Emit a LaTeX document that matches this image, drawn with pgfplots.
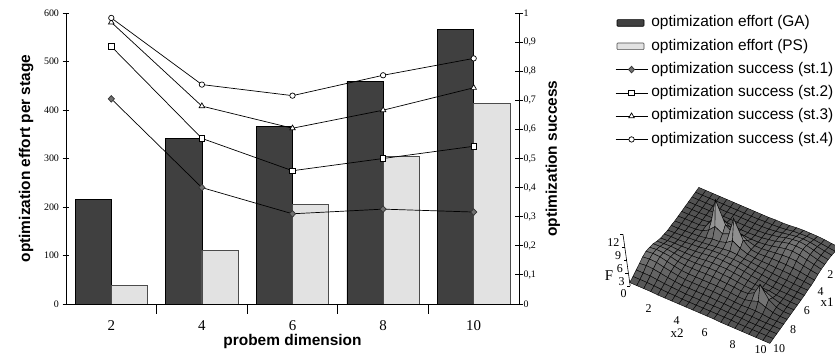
\documentclass[border=0pt]{standalone}
\usepackage{pgfplots}
\pgfplotsset{compat=1.18}
\usepackage{fontspec}
\setmainfont{Liberation Serif}
\newfontfamily\arial{Liberation Sans}
\definecolor{ga}{HTML}{404040}
\definecolor{ps}{HTML}{E2E2E2}
\definecolor{dia}{HTML}{707070}
\pgfplotsset{/pgf/number format/assume math mode=true}
\begin{document}
\begin{tikzpicture}
\useasboundingbox (0,0) rectangle (835bp,356bp);
% ---------- bars (left axis) ----------
\begin{axis}[
  at={(66bp,52bp)}, anchor=south west,
  scale only axis, width=453bp, height=291bp,
  xmin=0.5, xmax=5.5, ymin=0, ymax=600,
  axis x line*=bottom, axis y line*=left,
  axis line style={line width=0.8bp, -},
  xtick={1,2,3,4,5}, xticklabels={2,4,6,8,10},
  minor xtick={1.5,2.5,3.5,4.5},
  ytick={0,100,200,300,400,500,600},
  tick align=center,
  major tick length=7bp, minor tick length=10bp,
  tick style={black, line width=0.8bp},
  major x tick style={draw=none},
  yticklabel style={font=\fontsize{10}{12}\selectfont},
  xticklabel style={font=\fontsize{15}{17}\selectfont, yshift=-6bp},
  ylabel={optimization effort per stage},
  xlabel={probem dimension},
  label style={font=\arial\bfseries\fontsize{15.5}{18}\selectfont},
  ylabel style={at={(axis description cs:-0.088,0.5)}, anchor=center},
  xlabel style={at={(axis description cs:0.5,-0.13)}, anchor=center},
  ybar, bar width=0.4,
]
\addplot[fill=ga, draw=black, line width=0.6bp, bar shift=-0.2] coordinates {(1,216) (2,342) (3,367) (4,459) (5,566)};
\addplot[fill=ps, draw=black!70, line width=0.6bp, bar shift=0.2] coordinates {(1,39) (2,110) (3,205) (4,305) (5,414)};
\end{axis}
% ---------- success lines (right axis) ----------
\begin{axis}[
  at={(66bp,52bp)}, anchor=south west,
  scale only axis, width=453bp, height=291bp,
  xmin=0.5, xmax=5.5, ymin=0, ymax=1,
  axis x line=none, axis y line*=right,
  axis line style={line width=0.8bp, -},
  ytick={0,0.1,0.2,0.3,0.4,0.5,0.6,0.7,0.8,0.9,1},
  tick align=center, major tick length=8bp,
  tick style={black, line width=0.8bp},
  yticklabel style={font=\fontsize{10}{12}\selectfont, xshift=-3bp, /pgf/number format/.cd, fixed, precision=1, use comma},
  ylabel={optimization success},
  ylabel style={font=\arial\bfseries\fontsize{15.5}{18}\selectfont, at={(axis description cs:1.075,0.5)}, anchor=center},
  clip=false,
  legend style={at={(axis description cs:1.2119,0.9914)}, anchor=north west, draw=none, fill=none,
    font=\arial\fontsize{15.5}{18}\selectfont, inner sep=0pt, row sep=8.8bp, column sep=2bp,
    nodes={inner xsep=1.5bp, inner ysep=0bp, text height=11bp, text depth=3.5bp}},
  legend cell align=left,
  legend image code/.code={\draw[mark repeat=2,mark phase=2,#1] plot coordinates {(0bp,0bp) (16bp,0bp) (32bp,0bp)};},
]
\addlegendimage{legend image code/.code={\draw[fill=ga,draw=black,line width=0.6bp,rounded corners=0.8bp] (1.5bp,-3.3bp) rectangle (28.5bp,3.3bp); \path (0bp,0bp) (32bp,0bp);}}
\addlegendentry{optimization effort (GA)}
\addlegendimage{legend image code/.code={\draw[fill=ps,draw=black!70,line width=0.6bp,rounded corners=0.8bp] (1.5bp,-3.3bp) rectangle (28.5bp,3.3bp); \path (0bp,0bp) (32bp,0bp);}}
\addlegendentry{optimization effort (PS)}
\addplot[black, line width=0.7bp, mark=diamond*, mark size=3.3bp, mark options={fill=dia, draw=black!80, xscale=1.25}] coordinates {(1,0.705) (2,0.400) (3,0.310) (4,0.326) (5,0.316)};
\addlegendentry{optimization success (st.1)}
\addplot[black, line width=0.7bp, mark=square*, mark size=2.7bp, mark options={fill=white, draw=black}] coordinates {(1,0.885) (2,0.569) (3,0.458) (4,0.500) (5,0.542)};
\addlegendentry{optimization success (st.2)}
\addplot[black, line width=0.7bp, mark=triangle*, mark size=3.2bp, mark options={fill=white, draw=black}] coordinates {(1,0.968) (2,0.680) (3,0.604) (4,0.666) (5,0.743)};
\addlegendentry{optimization success (st.3)}
\addplot[black, line width=0.7bp, mark=*, mark size=2.7bp, mark options={fill=white, draw=black}] coordinates {(1,0.983) (2,0.754) (3,0.716) (4,0.786) (5,0.844)};
\addlegendentry{optimization success (st.4)}
\end{axis}
% ---------- 3D surface inset ----------
\begin{axis}[
  at={(623bp,10bp)}, anchor=south west,
  x={(14bp,-6bp)}, y={(-6.9bp,-9.6bp)}, z={(-0.6bp,4.3bp)},
  xmin=0, xmax=10, ymin=0, ymax=10, zmin=0, zmax=12,
  hide axis, clip=false,
  colormap={grr}{gray(0cm)=(0.32); gray(1cm)=(0.9)},
  point meta min=0.6, point meta max=9,
  z buffer=none,
]
\addplot3[surf, shader=faceted, faceted color=black, line width=0.4bp, mesh/rows=21, mesh/cols=21] coordinates {
(0,0,0.6)(0.5,0,0.6)(1,0,0.6)(1.5,0,0.6)(2,0,0.6)(2.5,0,0.6)(3,0,0.6)(3.5,0,0.6)(4,0,0.6)(4.5,0,0.6)(5,0,0.6)(5.5,0,0.7)(6,0,0.7)(6.5,0,0.8)(7,0,1.0)(7.5,0,1.1)(8,0,1.1)(8.5,0,1.1)(9,0,1.0)(9.5,0,0.8)(10,0,0.7)
(0,0.5,0.6)(0.5,0.5,0.6)(1,0.5,0.6)(1.5,0.5,0.6)(2,0.5,0.6)(2.5,0.5,0.6)(3,0.5,0.6)(3.5,0.5,0.6)(4,0.5,0.6)(4.5,0.5,0.6)(5,0.5,0.7)(5.5,0.5,0.7)(6,0.5,0.8)(6.5,0.5,1.0)(7,0.5,1.3)(7.5,0.5,1.4)(8,0.5,1.5)(8.5,0.5,1.4)(9,0.5,1.2)(9.5,0.5,1.0)(10,0.5,0.8)
(0,1,0.6)(0.5,1,0.6)(1,1,0.6)(1.5,1,0.6)(2,1,0.6)(2.5,1,0.6)(3,1,0.7)(3.5,1,0.7)(4,1,0.7)(4.5,1,0.7)(5,1,0.7)(5.5,1,0.8)(6,1,1.0)(6.5,1,1.3)(7,1,1.6)(7.5,1,1.9)(8,1,2.0)(8.5,1,1.9)(9,1,1.6)(9.5,1,1.3)(10,1,1.0)
(0,1.5,0.6)(0.5,1.5,0.6)(1,1.5,0.6)(1.5,1.5,0.6)(2,1.5,0.7)(2.5,1.5,0.7)(3,1.5,0.7)(3.5,1.5,0.7)(4,1.5,0.7)(4.5,1.5,0.7)(5,1.5,0.8)(5.5,1.5,0.9)(6,1.5,1.2)(6.5,1.5,1.5)(7,1.5,2.0)(7.5,1.5,2.3)(8,1.5,2.5)(8.5,1.5,2.3)(9,1.5,1.9)(9.5,1.5,1.4)(10,1.5,1.1)
(0,2,0.6)(0.5,2,0.6)(1,2,0.6)(1.5,2,0.7)(2,2,0.7)(2.5,2,0.9)(3,2,1.1)(3.5,2,0.9)(4,2,0.8)(4.5,2,0.8)(5,2,0.9)(5.5,2,1.0)(6,2,1.3)(6.5,2,1.6)(7,2,2.1)(7.5,2,2.5)(8,2,2.6)(8.5,2,2.5)(9,2,2.0)(9.5,2,1.5)(10,2,1.1)
(0,2.5,0.6)(0.5,2.5,0.6)(1,2.5,0.7)(1.5,2.5,0.7)(2,2.5,0.9)(2.5,2.5,1.8)(3,2.5,3.2)(3.5,2.5,1.9)(4,2.5,1.2)(4.5,2.5,1.2)(5,2.5,1.1)(5.5,2.5,1.1)(6,2.5,1.3)(6.5,2.5,1.6)(7,2.5,2.0)(7.5,2.5,2.4)(8,2.5,2.5)(8.5,2.5,2.3)(9,2.5,1.9)(9.5,2.5,1.5)(10,2.5,1.1)
(0,3,0.6)(0.5,3,0.7)(1,3,0.7)(1.5,3,0.7)(2,3,1.1)(2.5,3,3.2)(3,3,8.6)(3.5,3,3.5)(4,3,2.2)(4.5,3,2.9)(5,3,1.9)(5.5,3,1.4)(6,3,1.4)(6.5,3,1.6)(7,3,1.8)(7.5,3,2.0)(8,3,2.1)(8.5,3,2.0)(9,3,1.6)(9.5,3,1.3)(10,3,1.0)
(0,3.5,0.6)(0.5,3.5,0.7)(1,3.5,0.7)(1.5,3.5,0.8)(2,3.5,1.1)(2.5,3.5,2.0)(3,3.5,3.5)(3.5,3.5,2.5)(4,3.5,3.2)(4.5,3.5,7.4)(5,3.5,3.1)(5.5,3.5,1.6)(6,3.5,1.4)(6.5,3.5,1.5)(7,3.5,1.6)(7.5,3.5,1.6)(8,3.5,1.6)(8.5,3.5,1.5)(9,3.5,1.3)(9.5,3.5,1.0)(10,3.5,0.8)
(0,4,0.7)(0.5,4,0.7)(1,4,0.8)(1.5,4,0.9)(2,4,1.0)(2.5,4,1.3)(3,4,1.7)(3.5,4,1.8)(4,4,2.3)(4.5,4,3.4)(5,4,2.3)(5.5,4,1.7)(6,4,1.5)(6.5,4,1.4)(7,4,1.4)(7.5,4,1.3)(8,4,1.3)(8.5,4,1.2)(9,4,1.0)(9.5,4,0.9)(10,4,0.7)
(0,4.5,0.7)(0.5,4.5,0.8)(1,4.5,0.9)(1.5,4.5,1.0)(2,4.5,1.1)(2.5,4.5,1.3)(3,4.5,1.5)(3.5,4.5,1.7)(4,4.5,1.9)(4.5,4.5,2.1)(5,4.5,2.0)(5.5,4.5,1.7)(6,4.5,1.6)(6.5,4.5,1.4)(7,4.5,1.3)(7.5,4.5,1.1)(8,4.5,1.0)(8.5,4.5,0.9)(9,4.5,0.8)(9.5,4.5,0.7)(10,4.5,0.7)
(0,5,0.9)(0.5,5,1.0)(1,5,1.0)(1.5,5,1.1)(2,5,1.3)(2.5,5,1.4)(3,5,1.7)(3.5,5,1.9)(4,5,2.0)(4.5,5,2.0)(5,5,2.0)(5.5,5,1.9)(6,5,1.6)(6.5,5,1.4)(7,5,1.2)(7.5,5,1.0)(8,5,0.9)(8.5,5,0.8)(9,5,0.7)(9.5,5,0.7)(10,5,0.6)
(0,5.5,1.1)(0.5,5.5,1.2)(1,5.5,1.3)(1.5,5.5,1.3)(2,5.5,1.4)(2.5,5.5,1.5)(3,5.5,1.7)(3.5,5.5,1.9)(4,5.5,2.1)(4.5,5.5,2.1)(5,5.5,2.0)(5.5,5.5,1.9)(6,5.5,1.7)(6.5,5.5,1.4)(7,5.5,1.2)(7.5,5.5,1.0)(8,5.5,0.8)(8.5,5.5,0.7)(9,5.5,0.7)(9.5,5.5,0.6)(10,5.5,0.6)
(0,6,1.5)(0.5,6,1.6)(1,6,1.7)(1.5,6,1.6)(2,6,1.6)(2.5,6,1.6)(3,6,1.7)(3.5,6,1.9)(4,6,2.0)(4.5,6,2.0)(5,6,2.0)(5.5,6,1.8)(6,6,1.6)(6.5,6,1.4)(7,6,1.2)(7.5,6,1.1)(8,6,1.1)(8.5,6,0.8)(9,6,0.7)(9.5,6,0.6)(10,6,0.6)
(0,6.5,2.0)(0.5,6.5,2.1)(1,6.5,2.1)(1.5,6.5,1.9)(2,6.5,1.7)(2.5,6.5,1.7)(3,6.5,1.7)(3.5,6.5,1.8)(4,6.5,1.9)(4.5,6.5,1.9)(5,6.5,1.8)(5.5,6.5,1.7)(6,6.5,1.5)(6.5,6.5,1.3)(7,6.5,1.2)(7.5,6.5,1.5)(8,6.5,2.1)(8.5,6.5,1.3)(9,6.5,0.8)(9.5,6.5,0.6)(10,6.5,0.6)
(0,7,2.3)(0.5,7,2.5)(1,7,2.4)(1.5,7,2.2)(2,7,1.8)(2.5,7,1.6)(3,7,1.6)(3.5,7,1.6)(4,7,1.7)(4.5,7,1.7)(5,7,1.6)(5.5,7,1.5)(6,7,1.4)(6.5,7,1.2)(7,7,1.3)(7.5,7,2.2)(8,7,4.8)(8.5,7,2.0)(9,7,0.9)(9.5,7,0.6)(10,7,0.6)
(0,7.5,2.5)(0.5,7.5,2.7)(1,7.5,2.6)(1.5,7.5,2.2)(2,7.5,1.8)(2.5,7.5,1.5)(3,7.5,1.4)(3.5,7.5,1.4)(4,7.5,1.4)(4.5,7.5,1.4)(5,7.5,1.4)(5.5,7.5,1.3)(6,7.5,1.2)(6.5,7.5,1.0)(7,7.5,1.0)(7.5,7.5,1.4)(8,7.5,2.0)(8.5,7.5,1.3)(9,7.5,0.8)(9.5,7.5,0.6)(10,7.5,0.6)
(0,8,2.3)(0.5,8,2.5)(1,8,2.4)(1.5,8,2.0)(2,8,1.7)(2.5,8,1.4)(3,8,1.2)(3.5,8,1.2)(4,8,1.2)(4.5,8,1.2)(5,8,1.2)(5.5,8,1.1)(6,8,1.0)(6.5,8,0.9)(7,8,0.8)(7.5,8,0.9)(8,8,0.9)(8.5,8,0.8)(9,8,0.6)(9.5,8,0.6)(10,8,0.6)
(0,8.5,1.9)(0.5,8.5,2.1)(1,8.5,2.0)(1.5,8.5,1.7)(2,8.5,1.4)(2.5,8.5,1.2)(3,8.5,1.0)(3.5,8.5,1.0)(4,8.5,1.0)(4.5,8.5,1.0)(5,8.5,1.0)(5.5,8.5,0.9)(6,8.5,0.9)(6.5,8.5,0.8)(7,8.5,0.7)(7.5,8.5,0.7)(8,8.5,0.7)(8.5,8.5,0.6)(9,8.5,0.6)(9.5,8.5,0.6)(10,8.5,0.6)
(0,9,1.5)(0.5,9,1.5)(1,9,1.5)(1.5,9,1.3)(2,9,1.1)(2.5,9,1.0)(3,9,0.9)(3.5,9,0.8)(4,9,0.8)(4.5,9,0.8)(5,9,0.8)(5.5,9,0.8)(6,9,0.8)(6.5,9,0.7)(7,9,0.7)(7.5,9,0.7)(8,9,0.6)(8.5,9,0.6)(9,9,0.6)(9.5,9,0.6)(10,9,0.6)
(0,9.5,1.1)(0.5,9.5,1.1)(1,9.5,1.1)(1.5,9.5,1.0)(2,9.5,0.9)(2.5,9.5,0.8)(3,9.5,0.8)(3.5,9.5,0.7)(4,9.5,0.7)(4.5,9.5,0.7)(5,9.5,0.7)(5.5,9.5,0.7)(6,9.5,0.7)(6.5,9.5,0.7)(7,9.5,0.7)(7.5,9.5,0.6)(8,9.5,0.6)(8.5,9.5,0.6)(9,9.5,0.6)(9.5,9.5,0.6)(10,9.5,0.6)
(0,10,0.8)(0.5,10,0.8)(1,10,0.8)(1.5,10,0.8)(2,10,0.7)(2.5,10,0.7)(3,10,0.7)(3.5,10,0.7)(4,10,0.7)(4.5,10,0.7)(5,10,0.7)(5.5,10,0.7)(6,10,0.7)(6.5,10,0.6)(7,10,0.6)(7.5,10,0.6)(8,10,0.6)(8.5,10,0.6)(9,10,0.6)(9.5,10,0.6)(10,10,0.6)
};
\draw[line width=0.6bp] (axis cs:0,10,0) -- (axis cs:0,10,12);
\pgfplotsinvokeforeach{0,3,6,9,12}{
  \draw[line width=0.5bp] (axis cs:0,10,#1) -- ++(-3bp,0bp);
  \node[anchor=east, font=\fontsize{12}{14}\selectfont, inner sep=0pt] at ([xshift=-3.5bp,yshift=-8bp]axis cs:0,10,#1) {#1};
}
\pgfplotsinvokeforeach{2,4,6,8}{
  \node[font=\fontsize{12}{14}\selectfont, inner sep=0pt] at ([xshift=-9.5bp,yshift=-10.5bp]axis cs:#1,10,0) {#1};
}
\node[font=\fontsize{12}{14}\selectfont, inner sep=0pt] at ([xshift=-9.5bp,yshift=-3.5bp]axis cs:10,10,0) {10};
\pgfplotsinvokeforeach{4,6,8,10}{
  \node[font=\fontsize{12}{14}\selectfont, inner sep=0pt] at ([xshift=9bp,yshift=-3bp]axis cs:10,#1,0) {#1};
}
\node[font=\fontsize{12}{14}\selectfont, inner sep=0pt] at ([xshift=5bp,yshift=-5bp]axis cs:10,2,0) {2};
\end{axis}
\node[font=\fontsize{15}{17}\selectfont, inner sep=0pt] at (609bp,80bp) {F};
\node[font=\fontsize{13}{15}\selectfont, inner sep=0pt] at (677bp,23bp) {x2};
\node[font=\fontsize{13}{15}\selectfont, inner sep=0pt] at (827bp,54bp) {x1};
\end{tikzpicture}
\end{document}
